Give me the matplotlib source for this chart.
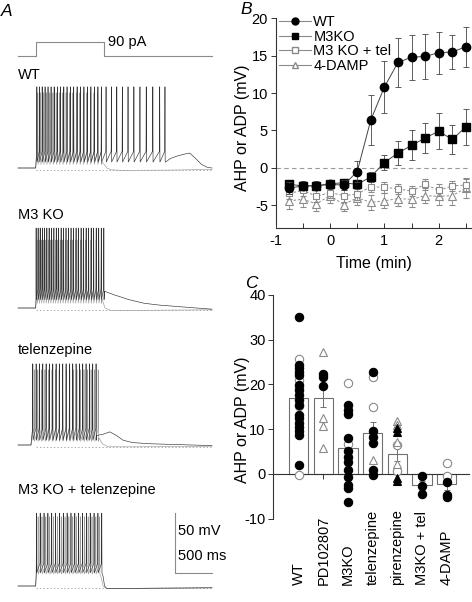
import numpy as np
import matplotlib
matplotlib.use("Agg")
import matplotlib.pyplot as plt
import matplotlib.transforms as mtransforms
from matplotlib.lines import Line2D

plt.rcParams['font.family'] = ['Liberation Sans', 'DejaVu Sans']
plt.rcParams['axes.unicode_minus'] = False

# ------------------------------------------------------------------ data
# Panel B: time course
time_min = [-0.75, -0.5, -0.25, 0, 0.25, 0.5, 0.75, 1, 1.25, 1.5, 1.75, 2, 2.25, 2.5]
wt_mean = [-2.7, -2.4, -2.4, -2.2, -2.3, -0.5, 6.4, 10.8, 14.1, 14.8, 14.9, 15.4, 15.5, 16.2]
wt_sem = [0.8, 0.6, 0.6, 0.6, 0.7, 1.4, 3.3, 3.5, 3.3, 3.0, 3.0, 2.8, 2.3, 2.7]
m3ko_mean = [-2.2, -2.4, -2.4, -2.1, -2.0, -2.2, -1.2, 0.7, 2.0, 3.0, 4.0, 4.9, 3.8, 5.5]
m3ko_sem = [0.6, 0.5, 0.5, 0.5, 0.5, 0.6, 0.7, 1.0, 1.6, 2.0, 2.0, 2.4, 2.0, 2.4]
m3kotel_mean = [-3.4, -3.0, -3.8, -3.3, -3.7, -3.5, -2.5, -2.6, -2.8, -3.1, -2.2, -3.0, -2.4, -2.3]
m3kotel_sem = [0.8, 0.7, 0.8, 0.7, 0.8, 0.8, 0.7, 0.7, 0.7, 0.7, 0.7, 0.8, 0.7, 0.8]
damp_mean = [-4.4, -4.2, -4.8, -3.7, -4.9, -4.0, -4.6, -4.4, -4.1, -4.2, -3.7, -3.8, -3.7, -2.7]
damp_sem = [1.1, 1.0, 1.0, 1.0, 0.9, 0.9, 1.0, 1.0, 1.0, 1.0, 1.0, 1.2, 1.3, 1.3]
series_names = ['WT', 'M3KO', 'M3 KO + tel', '4-DAMP']

# Panel C: summary
categories = ['WT', 'PD102807', 'M3KO', 'telenzepine', 'pirenzepine', 'M3KO + tel', '4-DAMP']
bar_mean = [17.0, 17.0, 5.8, 9.1, 4.5, -2.5, -2.2]
bar_sem = [1.6, 2.0, 1.8, 2.6, 1.5, 1.0, 1.3]
filled_circles = {
    'WT': [35.0, 24.4, 23.7, 22.9, 22.2, 19.9, 18.8, 17.7, 16.6, 15.5, 13.2, 12.5, 11.3, 10.6, 9.5, 8.7, 1.9],
    'PD102807': [22.4, 21.6, 19.6],
    'M3KO': [15.4, 14.2, 13.4, 8.1, 5.2, 3.9, 2.6, 0.9, -0.6, -2.5, -3.2, -6.2],
    'telenzepine': [22.9, 9.7, 8.3, 6.9, 0.9, -0.3],
    'M3KO + tel': [-0.5, -2.8, -4.5],
    '4-DAMP': [-1.9, -4.6, -5.1],
}
open_circles = {
    'WT': [25.7, 21.0, 19.4, 15.1, -0.2],
    'M3KO': [20.4, 6.6],
    'telenzepine': [21.6, 14.9],
    'pirenzepine': [6.5, 0.6],
    '4-DAMP': [2.5, -0.5],
}
open_triangles = {
    'PD102807': [27.2, 12.5, 10.7, 5.9],
    'telenzepine': [3.1],
    'pirenzepine': [11.8, 11.0, 7.2, 2.3],
}
filled_triangles = {
    'pirenzepine': [10.3, 9.4, -0.8, -1.6],
}

# Panel A: example traces (times in ms from trace start, voltages in mV re. rest)
trace_labels = ['WT', 'M3 KO', 'telenzepine', 'M3 KO + telenzepine']
step_on_ms, step_off_ms, trace_end_ms = 239, 1162, 2622
step_amp_pA = 90

wt_black_spikes = [255, 290, 327, 366, 406, 447, 489, 532, 575, 619, 663, 708, 753, 799, 845, 891,
                   938, 985, 1032, 1080, 1128, 1190, 1262, 1335, 1410, 1487, 1566, 1648, 1733,
                   1822, 1915, 1986]
wt_gray_spikes = [268, 306, 346, 387, 429, 472, 516, 560, 605, 650, 696, 742, 789, 836, 883, 931,
                  979, 1027, 1076, 1125]
m3ko_black_spikes = [245, 272, 300, 329, 359, 390, 421, 453, 485, 517, 550, 583, 616, 649, 683,
                     717, 751, 785, 819, 853, 887, 921, 955, 989, 1023, 1057, 1091, 1125, 1160]
m3ko_gray_spikes = [258, 287, 316, 346, 377, 408, 440, 472, 505, 538, 571, 605, 639, 673, 707,
                    741, 776, 811, 846, 881, 916, 951, 986, 1021, 1056, 1091, 1126]
tel_black_spikes = [200, 245, 290, 335, 380, 425, 470, 515, 560, 605, 650, 695, 740, 785, 830,
                    875, 920, 965, 1010, 1055]
tel_gray_spikes = [220, 268, 316, 364, 412, 460, 508, 556, 604, 652, 700, 748, 796, 844, 892,
                   940, 988, 1036, 1084]
kotel_black_spikes = [250, 300, 352, 404, 456, 508, 560, 612, 664, 716, 768, 820, 872, 924, 976,
                      1028, 1080, 1132]
kotel_gray_spikes = [272, 324, 376, 428, 480, 532, 584, 636, 688, 740, 792, 844, 896, 948, 1000,
                     1052, 1104]

# (pre-spike knots, spikes, threshold, peak, trough, post-spike knots)
wt_black = ([(0, 0), (239, 0), (245, 6)], wt_black_spikes, 14, 68, 5,
            [(1995, 5), (2060, 8), (2150, 10), (2240, 11.5), (2320, 12.5), (2400, 8),
             (2480, 3), (2560, 0.5), (2622, 0)])
wt_gray = ([(0, 0), (239, 0), (245, 6)], wt_gray_spikes, 13, 63, 3,
           [(1135, 5), (1165, 3), (1200, 0), (1260, -1.5), (1400, -2), (2000, -1.8), (2622, -1.2)])
m3ko_black = ([(0, 0), (239, 0), (243, 6)], m3ko_black_spikes, 16, 67, 7,
              [(1170, 14), (1300, 11), (1500, 7), (1700, 4), (1900, 2.5), (2200, 1), (2622, -1)])
m3ko_gray = ([(0, 0), (239, 0), (243, 5)], m3ko_gray_spikes, 14, 57, 4,
             [(1135, 8), (1175, 0), (1250, -2), (1600, -2), (2622, -1.5)])
tel_black = ([(0, 0), (176, 0), (182, 5)], tel_black_spikes, 14, 68, 4,
             [(1065, 8), (1150, 9), (1240, 11), (1330, 8), (1420, 4), (1550, 2), (1800, 1),
              (2622, -0.5)])
tel_gray = ([(0, 0), (176, 0), (182, 5)], tel_gray_spikes, 13, 63, 3,
            [(1095, 6), (1140, 1), (1220, -1.5), (1600, -1.5), (2622, -1)])
kotel_black = ([(0, 0), (239, 0), (245, 8)], kotel_black_spikes, 19, 61, 11,
               [(1150, 8), (1170, 0), (1200, -2), (1500, -2), (2622, -1.5)])
kotel_gray = ([(0, 0), (239, 0), (245, 8)], kotel_gray_spikes, 18, 58, 10,
              [(1120, 8), (1150, 0), (1190, -2), (1500, -2), (2622, -1.5)])
traces = [(wt_gray, wt_black), (m3ko_gray, m3ko_black), (tel_gray, tel_black),
          (kotel_gray, kotel_black)]

# ------------------------------------------------------------------ layout
W, H = 472, 602
fig = plt.figure(figsize=(W / 100, H / 100), dpi=100)


def fx(x):
    return x / W


def fy(y):
    return 1 - y / H


GRAY = '#8a8a8a'
DARK = '#333333'
AXC = '#333333'

# panel letters
for letter, (x, y) in zip('ABC', [(7, 12), (246, 10), (251, 283)]):
    fig.text(fx(x), fy(y), letter, fontsize=12.5, style='italic', ha='center', va='center')

# ------------------------------------------------------------------ panel A
PX_PER_MS = 0.074
PX_PER_MV = 1.194
T0_PX = 18
ax_a = fig.add_axes([0, 0, fx(230), 1])
ax_a.set_axis_off()
ax_a.set_xlim(-T0_PX / PX_PER_MS, (230 - T0_PX) / PX_PER_MS)
ax_a.set_ylim(-H / PX_PER_MV, 0)

baselines_px = [168, 308, 445, 586]
label_px = [75, 215, 350, 490]


def build(tr):
    pre, spikes, thr, peak, trough, post = tr
    t = [p[0] for p in pre]
    v = [p[1] for p in pre]
    for s in spikes:
        t += [s - 3, s, s + 3]
        v += [thr, peak, trough]
    t += [p[0] for p in post]
    v += [p[1] for p in post]
    return np.array(t, float), np.array(v, float)


for (gray_tr, black_tr), bpx, lpx, lab in zip(traces, baselines_px, label_px, trace_labels):
    off = -bpx / PX_PER_MV
    ax_a.plot([step_on_ms, trace_end_ms], [off - 1.5, off - 1.5], color=GRAY, lw=0.5,
              ls=(0, (2, 3)))
    t, v = build(gray_tr)
    ax_a.plot(t, v + off, color='#9a9a9a', lw=0.45)
    t, v = build(black_tr)
    ax_a.plot(t, v + off, color=DARK, lw=0.45)
    fig.text(fx(18), fy(lpx), lab, fontsize=10.5, ha='left', va='center')

# current step
PX_PER_PA = 14 / 90
step_base = -56 / PX_PER_MV
step_t = [0, step_on_ms, step_on_ms, step_off_ms, step_off_ms, trace_end_ms]
step_i = [0, 0, step_amp_pA, step_amp_pA, 0, 0]
ax_a.plot(step_t, [step_base + i * PX_PER_PA / PX_PER_MV for i in step_i], color=GRAY, lw=0.8)
fig.text(fx(108), fy(42), '90 pA', fontsize=10.5, ha='left', va='center')

# scale bar (50 mV, 500 ms) drawn in trace-4 coordinates
off4 = -baselines_px[3] / PX_PER_MV
sb_t = trace_end_ms - 500
ax_a.plot([sb_t, sb_t, trace_end_ms], [off4 + 61, off4 + 11, off4 + 11], color=GRAY, lw=0.8)
fig.text(fx(178), fy(531), '50 mV', fontsize=10.5, ha='left', va='center')
fig.text(fx(178), fy(556), '500 ms', fontsize=10.5, ha='left', va='center')

# ------------------------------------------------------------------ panel B
ax_b = fig.add_axes([fx(275.7), fy(224), (471.3 - 275.7) / W, (224 - 18.3) / H])
ax_b.set_xlim(-1, 2.6)
ax_b.set_ylim(-7.5, 20)
for s in ['top', 'right']:
    ax_b.spines[s].set_visible(False)
for s in ['left', 'bottom']:
    ax_b.spines[s].set_color(AXC)
    ax_b.spines[s].set_linewidth(0.8)
ax_b.spines['bottom'].set_position(('outward', 3))
ax_b.spines['left'].set_bounds(-7.5, 20)
ax_b.set_xticks([-1, 0, 1, 2])
ax_b.set_xticks([-0.5, 0.5, 1.5, 2.5], minor=True)
ax_b.set_yticks([-5, 0, 5, 10, 15, 20])
ax_b.tick_params(axis='x', which='both', direction='in', length=3.5, width=0.7, color=AXC,
                 labelsize=10.5, pad=4)
ax_b.tick_params(axis='y', direction='out', length=3.5, width=0.7, color=AXC, labelsize=10.5,
                 pad=2)
ax_b.axhline(0, color='#999999', lw=0.8, ls=(0, (4, 3)), zorder=0)

ax_b.errorbar(time_min, damp_mean, yerr=damp_sem, fmt='^', ms=5.5, mfc='white', mec=GRAY,
              mew=0.8, color=GRAY, ecolor=GRAY, elinewidth=0.6, capsize=2.5, capthick=0.6,
              ls=(0, (2.5, 2)), lw=0.7, zorder=2, clip_on=False)
ax_b.errorbar(time_min, m3kotel_mean, yerr=m3kotel_sem, fmt='s', ms=5, mfc='white', mec=GRAY,
              mew=0.8, color=GRAY, ecolor=GRAY, elinewidth=0.6, capsize=2.5, capthick=0.6,
              ls=(0, (2.5, 2)), lw=0.7, zorder=3, clip_on=False)
ax_b.errorbar(time_min, m3ko_mean, yerr=m3ko_sem, fmt='s', ms=5.5, mfc='black', mec='black',
              color='#444444', ecolor='#444444', elinewidth=0.6, capsize=2.5, capthick=0.6,
              ls='-', lw=0.7, zorder=4, clip_on=False)
ax_b.errorbar(time_min, wt_mean, yerr=wt_sem, fmt='o', ms=6, mfc='black', mec='black',
              color='#444444', ecolor='#444444', elinewidth=0.6, capsize=2.5, capthick=0.6,
              ls='-', lw=0.7, zorder=5, clip_on=False)
ax_b.set_xlabel('Time (min)', fontsize=11.5, labelpad=6)
fig.text(fx(243), fy(128), 'AHP or ADP (mV)', fontsize=11.5, rotation=90, ha='center',
         va='center')

handles = [
    Line2D([], [], color=GRAY, lw=0.8, marker='o', ms=5, mfc='black', mec='black'),
    Line2D([], [], color=GRAY, lw=0.8, marker='s', ms=4.5, mfc='black', mec='black'),
    Line2D([], [], color=GRAY, lw=0.8, marker='s', ms=4.5, mfc='white', mec=GRAY),
    Line2D([], [], color=GRAY, lw=0.8, marker='^', ms=5, mfc='white', mec=GRAY),
]
ax_b.legend(handles, series_names, loc='upper left', bbox_to_anchor=(fx(279), fy(15)),
            bbox_transform=fig.transFigure, frameon=False, handlelength=2.2, handletextpad=0.15,
            labelspacing=0.05, borderpad=0, borderaxespad=0, fontsize=10.5)

# ------------------------------------------------------------------ panel C
ax_c = fig.add_axes([fx(273.3), fy(518.7), (469 - 273.3) / W, (518.7 - 295) / H])
ax_c.set_xlim(-1.03, 6.9)
ax_c.set_ylim(-10, 40)
for s in ['top', 'right']:
    ax_c.spines[s].set_visible(False)
for s in ['left', 'bottom']:
    ax_c.spines[s].set_color(AXC)
    ax_c.spines[s].set_linewidth(0.8)
ax_c.spines['bottom'].set_position(('data', 0))
ax_c.set_yticks([-10, 0, 10, 20, 30, 40])
ax_c.set_xticks(range(len(categories)))
ax_c.set_xticklabels([])
ax_c.tick_params(axis='x', direction='out', length=3.5, width=0.7, color=AXC)
ax_c.tick_params(axis='y', direction='out', length=3.5, width=0.7, color=AXC, labelsize=10.5,
                 pad=2)
xs = np.arange(len(categories))
ax_c.bar(xs, bar_mean, width=0.78, color='white', edgecolor='#707070', linewidth=0.8, zorder=2)
ax_c.errorbar(xs, bar_mean, yerr=bar_sem, fmt='none', ecolor='#707070', elinewidth=0.7,
              capsize=2.5, capthick=0.7, zorder=2.5)
for d, kw in [(open_circles, dict(marker='o', mfc='white', mec=GRAY)),
              (open_triangles, dict(marker='^', mfc='white', mec=GRAY)),
              (filled_circles, dict(marker='o', mfc='black', mec='black')),
              (filled_triangles, dict(marker='^', mfc='black', mec='black'))]:
    for cat, vals in d.items():
        i = categories.index(cat)
        ax_c.plot([i] * len(vals), vals, ls='none', ms=6, mew=0.8, zorder=3, clip_on=False, **kw)

trans = mtransforms.blended_transform_factory(ax_c.transData, ax_c.transAxes)
for i, cat in enumerate(categories):
    ax_c.text(i, -0.296, cat, transform=trans, rotation=90, ha='center', va='bottom',
              fontsize=10.5)
fig.text(fx(243), fy(420), 'AHP or ADP (mV)', fontsize=11.5, rotation=90, ha='center',
         va='center')

fig.savefig('out.png', dpi=100)
